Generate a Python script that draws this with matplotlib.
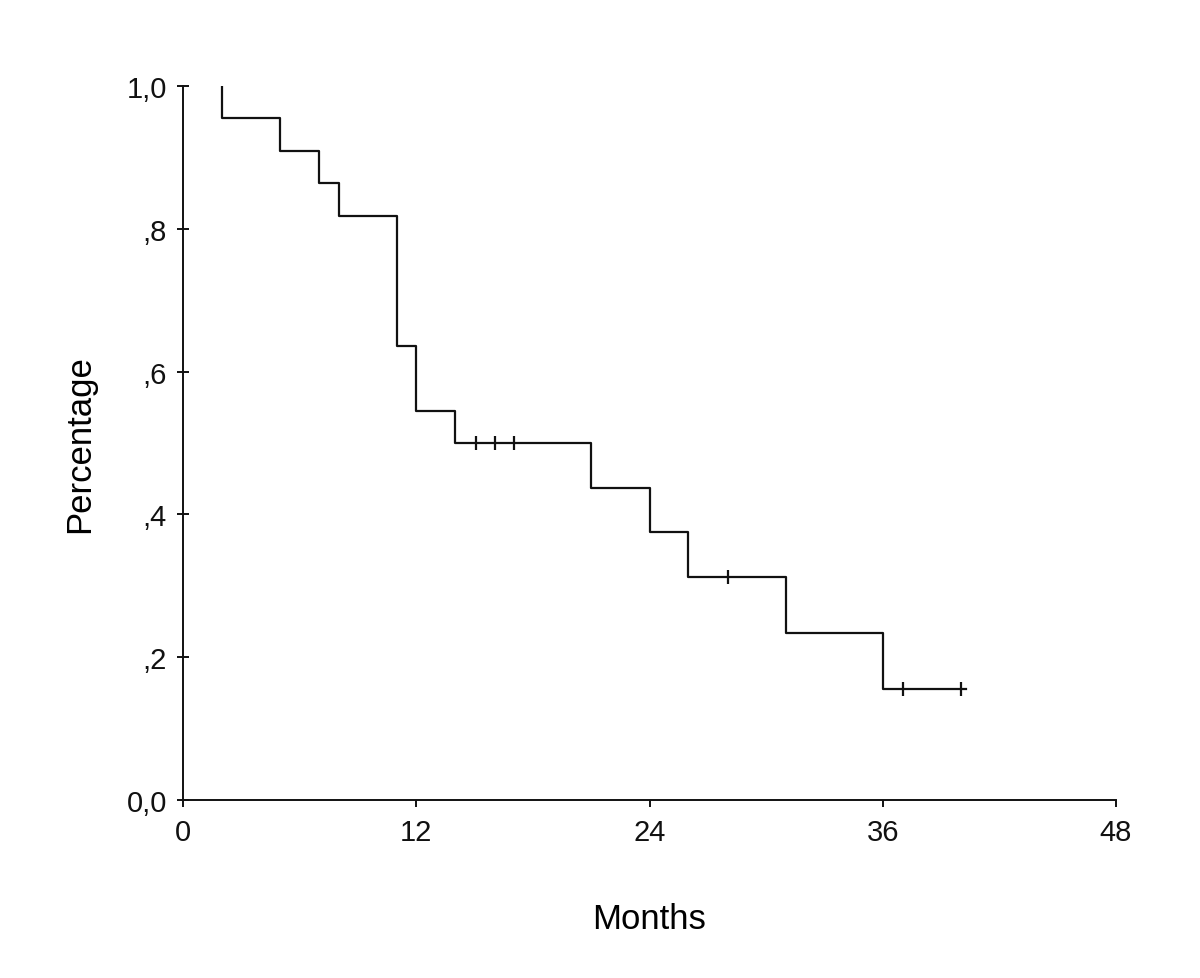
import matplotlib
matplotlib.use("Agg")
import matplotlib.pyplot as plt

# Kaplan-Meier step data
step_times = [2, 2, 5, 7, 8, 11, 12, 14, 21, 24, 26, 31, 36, 40.3]
step_surv = [1.0, 0.955, 0.909, 0.864, 0.818, 0.636, 0.545, 0.5, 0.4375, 0.375, 0.3125, 0.234, 0.156, 0.156]

censor_times = [15.05, 16.05, 17.05, 28.05, 37.05, 40.05]
censor_surv = [0.5, 0.5, 0.5, 0.3125, 0.156, 0.156]

x_ticks = [0, 12, 24, 36, 48]
y_ticks = [0.0, 0.2, 0.4, 0.6, 0.8, 1.0]
y_tick_labels = ["0,0", ",2", ",4", ",6", ",8", "1,0"]

plt.rcParams['font.family'] = ['Liberation Sans', 'DejaVu Sans']

fig = plt.figure(figsize=(12, 9.79), dpi=100)
ax = fig.add_axes([183/1200, 1 - 801/979, (1116-183)/1200, (801-87)/979])

ax.step(step_times, step_surv, where='post', color='#111111', lw=1.6)
ax.plot(censor_times, censor_surv, linestyle='none', marker='|', color='#111111',
        markersize=9.5, markeredgewidth=1.6)

ax.set_xlim(0, 48)
ax.set_ylim(0, 1.0)
ax.set_xticks(x_ticks)
ax.set_yticks(y_ticks)
ax.set_yticklabels(y_tick_labels)
ax.spines['top'].set_visible(False)
ax.spines['right'].set_visible(False)
for s in ['left', 'bottom']:
    ax.spines[s].set_linewidth(1.4)
    ax.spines[s].set_color('#111111')
ax.tick_params(axis='y', direction='inout', length=9, width=1.4, labelsize=21, pad=7, colors='#111111')
ax.tick_params(axis='x', direction='out', length=5, width=1.4, labelsize=21, pad=8, colors='#111111')

ax.set_xlabel("Months", fontsize=25, labelpad=40)
ax.set_ylabel("Percentage", fontsize=25, labelpad=22)

fig.savefig("out.png", dpi=100, facecolor='white')
